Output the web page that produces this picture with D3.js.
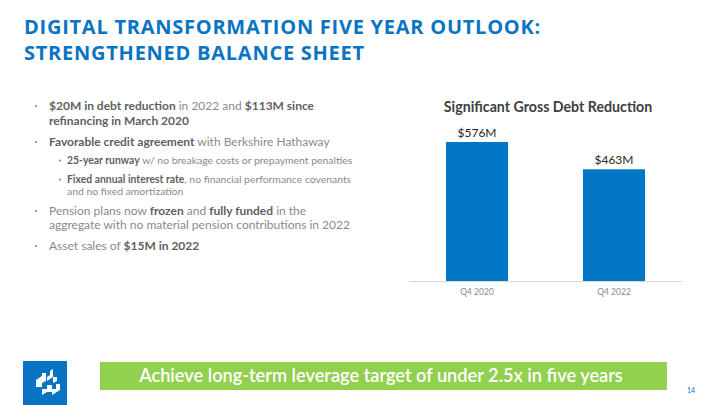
<!DOCTYPE html>
<html><head><meta charset="utf-8">
<script src="https://cdn.jsdelivr.net/npm/d3@7"></script>
<style>
html,body{margin:0;padding:0;background:#fff;}
svg{display:block;}
</style></head>
<body>
<svg id="c" width="720" height="405"></svg>
<script>
const categories = ["Q4 2020", "Q4 2022"];
const values = [576, 463];
const valueLabels = ["$576M", "$463M"];
const chartTitle = "Significant Gross Debt Reduction";
const titleLines = ["DIGITAL TRANSFORMATION FIVE YEAR OUTLOOK:", "STRENGTHENED BALANCE SHEET"];
const bannerText = "Achieve long-term leverage target of under 2.5x in five years";
const pageNumber = "14";
// bullet lines: [level, bulletShown, segments[[text,bold]]]
const bulletLines = [
  [0, true,  [["$20M in debt reduction", true], [" in 2022 and ", false], ["$113M since", true]]],
  [0, false, [["refinancing in March 2020", true]]],
  [0, true,  [["Favorable credit agreement", true], [" with Berkshire Hathaway", false]]],
  [1, true,  [["25-year runway", true], [" w/ no breakage costs or prepayment penalties", false]]],
  [1, true,  [["Fixed annual interest rate", true], [", no financial performance covenants", false]]],
  [1, false, [["and no fixed amortization", false]]],
  [0, true,  [["Pension plans now ", false], ["frozen", true], [" and ", false], ["fully funded", true], [" in the", false]]],
  [0, false, [["aggregate with no material pension contributions in 2022", false]]],
  [0, true,  [["Asset sales of ", false], ["$15M in 2022", true]]]
];
const bulletY = [110, 125, 146, 164, 183, 195, 215, 229, 250];

const svg = d3.select("#c");
const blue = "#0a74c4";

// Title
svg.append("g").selectAll("text").data(titleLines).join("text")
  .attr("x", 24).attr("y", (d,i) => 34 + i*26)
  .attr("font-family", "'Open Sans', sans-serif").attr("font-weight", 700)
  .attr("font-size", 20).attr("fill", blue).attr("letter-spacing", 0.75)
  .text(d => d);

// Bullets
const bg = svg.append("g");
bulletLines.forEach((b, i) => {
  const lvl = b[0];
  const fs = lvl === 0 ? 12 : 10.4;
  const tx = lvl === 0 ? 49 : 67;
  const y = bulletY[i];
  if (b[1]) {
    bg.append("circle").attr("cx", lvl === 0 ? 36 : 60).attr("cy", y - fs*0.33)
      .attr("r", 1.1).attr("fill", "#8c8c8c");
  }
  const t = bg.append("text").attr("x", tx).attr("y", y)
    .attr("font-family", "Lato, sans-serif").attr("font-size", fs);
  b[2].forEach(s => {
    t.append("tspan").attr("font-weight", s[1] ? 700 : 400)
      .attr("fill", s[1] ? "#5f5f5f" : "#8a8a8a").text(s[0]);
  });
});

// Bar chart
const x = d3.scaleBand().domain(categories).range([409, 682]).paddingInner(0.547).paddingOuter(0.27);
const y = d3.scaleLinear().domain([0, 576]).range([281, 142]);

svg.append("text").attr("x", 548).attr("y", 112).attr("text-anchor", "middle")
  .attr("font-family", "Lato, sans-serif").attr("font-weight", 700).attr("font-size", 14.2)
  .attr("fill", "#404040").text(chartTitle);

svg.append("g").selectAll("rect").data(values).join("rect")
  .attr("x", (d,i) => x(categories[i])).attr("width", x.bandwidth())
  .attr("y", d => y(d)).attr("height", d => y(0) - y(d))
  .attr("fill", "#0277c6");

svg.append("g").selectAll("text").data(values).join("text")
  .attr("x", (d,i) => x(categories[i]) + x.bandwidth()/2)
  .attr("y", d => y(d) - 5).attr("text-anchor", "middle")
  .attr("font-family", "Lato, sans-serif").attr("font-size", 12)
  .attr("fill", "#262626").text((d,i) => valueLabels[i]);

const ax = svg.append("g").attr("transform", "translate(0,281)")
  .call(d3.axisBottom(x).tickSize(0).tickPadding(8));
ax.select(".domain").attr("stroke", "#d9d9d9").attr("stroke-width", 1);
ax.selectAll("text").attr("font-family", "Lato, sans-serif").attr("font-size", 8.5).attr("fill", "#8c8c8c");

// Banner
svg.append("rect").attr("x", 100).attr("y", 362).attr("width", 567).attr("height", 28).attr("fill", "#92d050");
svg.append("text").attr("x", 381).attr("y", 382).attr("text-anchor", "middle")
  .attr("font-family", "Lato, sans-serif").attr("font-weight", 600).attr("font-size", 18.2)
  .attr("fill", "#fff").text(bannerText);

// Page number
svg.append("text").attr("x", 691).attr("y", 393).attr("text-anchor", "middle")
  .attr("font-family", "Lato, sans-serif").attr("font-size", 7).attr("fill", blue).text(pageNumber);

// Logo
const lg = svg.append("g");
lg.append("rect").attr("x", 23).attr("y", 361).attr("width", 44).attr("height", 44).attr("fill", "#0a74c4");
lg.append("path").attr("fill", "#fff").attr("d",
  "M36,380 L42,376 L42,373 L46,373 L46,381 L42,383 L42,387 L36,387 Z");
lg.append("path").attr("fill", "#fff").attr("d",
  "M50,371 L53,369 L53,377 L57,377 L57,381 L53,383 L53,377 L47,381 L47,377 L50,375 Z");
lg.append("path").attr("fill", "#fff").attr("d",
  "M42,389 L47,389 L47,385 L52,385 L52,389 L56,389 L56,384 L60,384 L60,390 L52,395 L52,392 L47,392 L42,395 Z");
</script>
</body></html>
